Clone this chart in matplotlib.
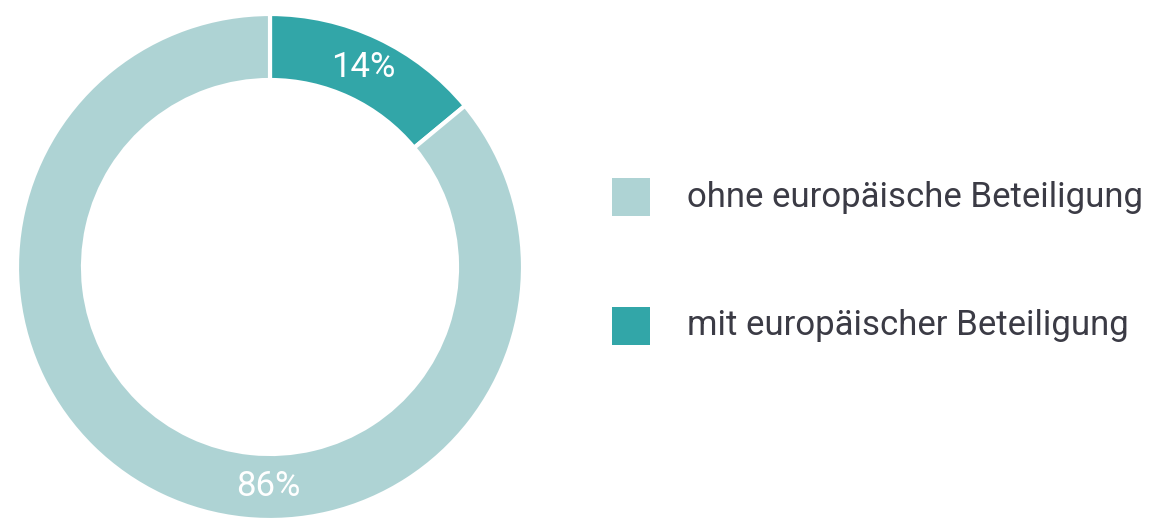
import matplotlib
matplotlib.use("Agg")
import matplotlib.pyplot as plt
from matplotlib.patches import Rectangle
import numpy as np

categories = ["mit europäischer Beteiligung", "ohne europäische Beteiligung"]
values = [14, 86]
colors = ["#32A6A8", "#AED3D4"]
legend_order = ["ohne europäische Beteiligung", "mit europäischer Beteiligung"]

plt.rcParams['font.family'] = ['Roboto', 'DejaVu Sans']

W, H = 1153, 520
fig = plt.figure(figsize=(W / 100, H / 100), dpi=100)

cx, cy, R = 270, 267, 253
ax = fig.add_axes([(cx - R) / W, (H - cy - R) / H, 2 * R / W, 2 * R / H])
rin = 187 / 253
wedges, _ = ax.pie(values, colors=colors, startangle=90, counterclock=False,
                   radius=1, wedgeprops=dict(width=1 - rin, edgecolor="white", linewidth=3))
ax.set_xlim(-1, 1)
ax.set_ylim(-1, 1)
ax.set_aspect("equal")
ax.axis("off")

rmid = (1 + rin) / 2
for i, w in enumerate(wedges):
    if i == 0:
        ang = np.deg2rad((w.theta1 + w.theta2) / 2)
    else:
        ang = np.deg2rad(-90.5)
    ax.text(rmid * np.cos(ang), rmid * np.sin(ang), f"{values[i]}%",
            ha="center", va="center", color="white", fontsize=25)

# legend
ys = [197, 326]
for lab, y in zip(legend_order, ys):
    c = colors[categories.index(lab)]
    fig.add_artist(Rectangle((612 / W, (H - y - 19) / H), 38 / W, 38 / H,
                             transform=fig.transFigure, facecolor=c, edgecolor="none"))
    fig.text(687 / W, (H - y) / H, lab, ha="left", va="center",
             fontsize=25, color="#3B3B45")

fig.savefig("out.png", dpi=100)
